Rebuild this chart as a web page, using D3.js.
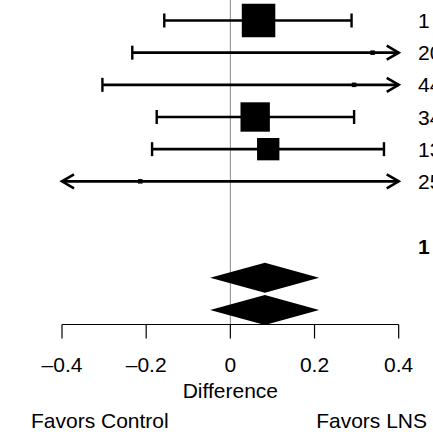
<!DOCTYPE html>
<html><head><meta charset="utf-8">
<script src="https://cdn.jsdelivr.net/npm/d3@7"></script>
<style>body{margin:0;background:#fff;overflow:hidden}svg{display:block;font-family:"Liberation Sans",Arial,sans-serif}</style>
</head><body><svg id="c" width="433" height="432"></svg>
<script>
// Study rows
const labels = ["1", "20", "44", "34", "13", "25"];
const estimates = [0.067, 0.338, 0.294, 0.059, 0.090, -0.214];
const lowers = [-0.157, -0.233, -0.304, -0.175, -0.186, -0.62];
const uppers = [0.288, 0.78, 0.85, 0.294, 0.365, 0.55];
const weights = [30, 1.4, 1.4, 26.3, 20, 1.2];
// Summary rows
const summaryEst = [0.082, 0.082];
const summaryLow = [-0.048, -0.048];
const summaryHigh = [0.211, 0.211];
const headerLabel = "1";
const ticks = [-0.4, -0.2, 0, 0.2, 0.4];
const tickLabels = ["\u20130.4", "\u20130.2", "0", "0.2", "0.4"];

const svg = d3.select("#c");
const x = d3.scaleLinear().domain([-0.4, 0.4]).range([62, 398.7]);
const y = d3.scaleLinear().domain([1, 10]).range([20.5, 310]);
const box = d3.scaleLinear().domain([0, 30]).range([0, 33.5]);
const FS = 21;

// zero line
svg.append("line").attr("x1", x(0)).attr("x2", x(0)).attr("y1", 0).attr("y2", 324)
  .attr("stroke", "#8a8a8a").attr("stroke-width", 1);

const lo = x.domain()[0], hi = x.domain()[1];
function arrow(g, xt, yc, dir) {
  g.append("path").attr("d", `M${xt - dir*12},${yc-7}L${xt},${yc}L${xt - dir*12},${yc+7}`)
    .attr("fill", "none").attr("stroke", "#000").attr("stroke-width", 2.6).attr("stroke-linejoin", "miter");
}
labels.forEach((lab, i) => {
  const yc = y(i + 1);
  const g = svg.append("g");
  const l = Math.max(lowers[i], lo), u = Math.min(uppers[i], hi);
  g.append("line").attr("x1", x(l)).attr("x2", x(u)).attr("y1", yc).attr("y2", yc)
    .attr("stroke", "#000").attr("stroke-width", 2.6);
  if (lowers[i] < lo) arrow(g, x(lo), yc, -1);
  else g.append("line").attr("x1", x(l)).attr("x2", x(l)).attr("y1", yc-7).attr("y2", yc+7).attr("stroke", "#000").attr("stroke-width", 2.4);
  if (uppers[i] > hi) arrow(g, x(hi), yc, 1);
  else g.append("line").attr("x1", x(u)).attr("x2", x(u)).attr("y1", yc-7).attr("y2", yc+7).attr("stroke", "#000").attr("stroke-width", 2.4);
  const s = Math.max(box(weights[i]), 4.5);
  g.append("rect").attr("x", x(estimates[i]) - s/2).attr("y", yc - s/2).attr("width", s).attr("height", s).attr("fill", "#000");
  g.append("text").attr("x", 418).attr("y", yc + 7.5).attr("font-size", FS).text(lab);
});

svg.append("text").attr("x", 418).attr("y", y(8) + 8).attr("font-size", FS).attr("font-weight", "bold").text(headerLabel);

summaryEst.forEach((e, i) => {
  const yc = y(9 + i);
  svg.append("path").attr("d", `M${x(summaryLow[i])},${yc}L${x(e)},${yc-15}L${x(summaryHigh[i])},${yc}L${x(e)},${yc+15}Z`).attr("fill", "#000");
});

// axis
const ax = svg.append("g").attr("transform", "translate(0,324.5)");
ax.append("line").attr("x1", x(-0.4)).attr("x2", x(0.4)).attr("stroke", "#000").attr("stroke-width", 1.2);
ticks.forEach((t, i) => {
  ax.append("line").attr("x1", x(t)).attr("x2", x(t)).attr("y1", 0).attr("y2", 14).attr("stroke", "#000").attr("stroke-width", 1.2);
  ax.append("text").attr("x", x(t)).attr("y", 47).attr("text-anchor", "middle").attr("font-size", FS).text(tickLabels[i]);
});
svg.append("text").attr("x", x(0)).attr("y", 398).attr("text-anchor", "middle").attr("font-size", FS).text("Difference");
svg.append("text").attr("x", 31).attr("y", 428).attr("font-size", FS).text("Favors Control");
svg.append("text").attr("x", 427).attr("y", 428).attr("text-anchor", "end").attr("font-size", FS).text("Favors LNS");
</script></body></html>
